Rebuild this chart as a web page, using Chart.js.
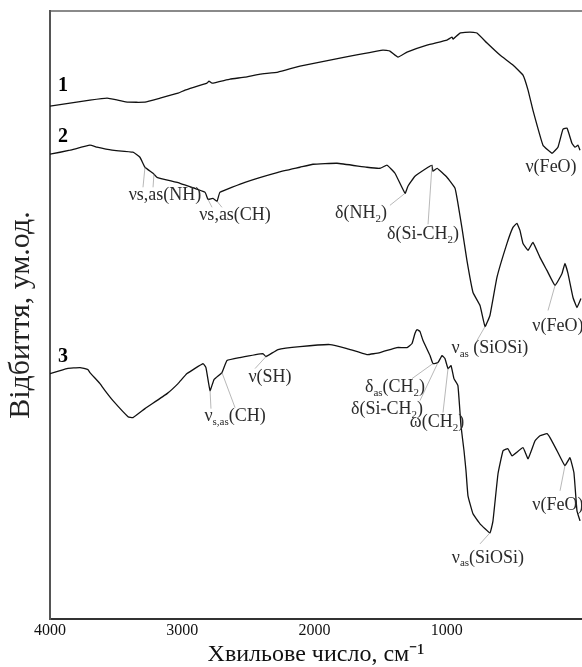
<!DOCTYPE html>
<html>
<head>
<meta charset="utf-8">
<script src="https://cdn.jsdelivr.net/npm/chart.js@4.4.0/dist/chart.umd.min.js"></script>
<style>
  html, body { margin: 0; padding: 0; background: #fff; }
</style>
</head>
<body>
<canvas id="chart" width="582" height="667"></canvas>
<script>
// wavenumbers (cm-1) and reflectance (arb. units)
const wn1 = [4000, 3849, 3698, 3569, 3486, 3410, 3282, 3168, 3032, 2979, 2813, 2798, 2775, 2639, 2526, 2412, 2276, 2110, 1808, 1483, 1430, 1369, 1301, 1150, 999, 961, 953, 900, 825, 772, 696, 598, 500, 424, 386, 349, 273, 205, 160, 122, 91, 54, 31, 8, -7];
const refl1 = [512, 515, 518, 520, 518, 516, 516, 520, 525, 528, 535, 537, 535, 539, 541, 544, 546, 552, 560, 568, 567, 561, 566, 573, 578, 581, 579, 585, 586, 585, 575, 563, 553, 543, 528, 508, 473, 465, 471, 489, 490, 475, 471, 473, 468];

const wn2 = [4000, 3849, 3698, 3645, 3531, 3373, 3320, 3282, 3221, 3191, 3017, 2828, 2806, 2768, 2737, 2715, 2526, 2276, 2110, 2012, 1830, 1604, 1505, 1452, 1392, 1316, 1294, 1241, 1142, 1112, 1105, 1074, 999, 938, 916, 885, 848, 802, 749, 711, 674, 621, 545, 500, 470, 447, 424, 386, 349, 296, 243, 182, 129, 107, 84, 46, 16, -14];
const refl2 = [464, 468, 473, 471, 468, 466, 461, 451, 445, 441, 435, 426, 419, 420, 417, 426, 436, 446, 451, 454, 455, 451, 450, 453, 445, 425, 432, 442, 451, 453, 447, 450, 441, 430, 415, 390, 358, 326, 313, 292, 303, 341, 375, 391, 395, 388, 375, 368, 376, 361, 348, 333, 345, 355, 345, 321, 311, 320];

const wn3 = [4000, 3871, 3773, 3713, 3698, 3622, 3584, 3524, 3410, 3373, 3282, 3115, 3032, 2964, 2843, 2821, 2790, 2760, 2700, 2662, 2564, 2390, 2367, 2276, 2110, 1883, 1755, 1604, 1505, 1377, 1301, 1263, 1241, 1225, 1203, 1180, 1127, 1105, 1067, 1036, 1014, 991, 968, 946, 916, 893, 870, 855, 840, 802, 749, 674, 651, 613, 575, 538, 507, 424, 386, 333, 296, 243, 220, 167, 107, 69, 39, 16, -7];
const refl3 = [245, 250, 251, 249, 246, 235, 228, 218, 202, 201, 210, 225, 235, 245, 255, 251, 228, 239, 246, 258, 261, 265, 262, 269, 272, 274, 270, 264, 266, 271, 271, 275, 285, 289, 287, 278, 263, 255, 256, 263, 260, 250, 253, 240, 233, 193, 168, 148, 123, 105, 95, 86, 98, 145, 168, 170, 163, 171, 160, 178, 183, 185, 181, 168, 153, 161, 146, 108, 98];

const xTicks = [4000, 3000, 2000, 1000];

const series = [[wn1, refl1], [wn2, refl2], [wn3, refl3]];

// curve numbers and band assignments (text centre + leader lines, in data units)
const curveNames = [
  { text: '1', w: 3902, v: 532 },
  { text: '2', w: 3902, v: 481 },
  { text: '3', w: 3902, v: 262 }
];
const bandLabels = [
  { text: 'νs,as(NH)', w: 3131, v: 423, s: 1, lines: [[3282, 3297, 431], [3214, 3221, 431]] },
  { text: 'νs,as(CH)', w: 2601, v: 403, s: 1, lines: [[2806, 2775, 411], [2737, 2700, 411]] },
  { text: 'δ(NH_{2})', w: 1649, v: 405, s: 1, lines: [[1316, 1430, 413]] },
  { text: 'δ(Si-CH_{2})', w: 1180, v: 384, s: 1, lines: [[1112, 1142, 394]] },
  { text: 'ν(FeO)', w: 212, v: 451, s: 0, lines: [] },
  { text: 'ν_{as} (SiOSi)', w: 674, v: 270, s: 1, lines: [[711, 772, 278]] },
  { text: 'ν(FeO)', w: 160, v: 292, s: 1, lines: [[182, 235, 308]] },
  { text: 'ν(SH)', w: 2337, v: 241, s: 2, lines: [[2367, 2450, 250]] },
  { text: 'ν_{s,as}(CH)', w: 2601, v: 202, s: 2, lines: [[2790, 2783, 210], [2700, 2601, 211]] },
  { text: 'δ_{as}(CH_{2})', w: 1392, v: 231, s: 2, lines: [[1105, 1263, 240]] },
  { text: 'δ(Si-CH_{2})', w: 1452, v: 209, s: 2, lines: [[1067, 1203, 218]] },
  { text: 'ω(CH_{2})', w: 1074, v: 196, s: 2, lines: [[991, 1029, 206]] },
  { text: 'ν_{as}(SiOSi)', w: 689, v: 61, s: 2, lines: [[674, 749, 75]] },
  { text: 'ν(FeO)', w: 160, v: 114, s: 2, lines: [[107, 144, 128]] }
];

const serif = '"Liberation Serif", "Times New Roman", serif';

function valueAt(ws, rs, w) {
  for (let i = 0; i < ws.length - 1; i++) {
    if (w <= ws[i] && w >= ws[i + 1]) {
      const t = (ws[i] - w) / (ws[i] - ws[i + 1]);
      return rs[i] + t * (rs[i + 1] - rs[i]);
    }
  }
  return rs[rs.length - 1];
}

function parseRich(str) {
  const parts = [];
  const re = /_\{([^}]*)\}/g;
  let last = 0, m;
  while ((m = re.exec(str))) {
    if (m.index > last) parts.push({ t: str.slice(last, m.index), sub: false });
    parts.push({ t: m[1], sub: true });
    last = re.lastIndex;
  }
  if (last < str.length) parts.push({ t: str.slice(last), sub: false });
  return parts;
}

function drawRich(ctx, str, cx, cy, size, bold) {
  const parts = parseRich(str);
  const subSize = Math.round(size * 0.6);
  const weight = bold ? 'bold ' : '';
  let total = 0;
  parts.forEach(p => {
    ctx.font = weight + (p.sub ? subSize : size) + 'px ' + serif;
    p.w = ctx.measureText(p.t).width;
    total += p.w;
  });
  let x = cx - total / 2;
  parts.forEach(p => {
    ctx.font = weight + (p.sub ? subSize : size) + 'px ' + serif;
    ctx.fillText(p.t, x, cy + (p.sub ? size * 0.3 : 0));
    x += p.w;
  });
}

const labelsPlugin = {
  id: 'bandLabels',
  afterDatasetsDraw(chart) {
    const ctx = chart.ctx;
    const xs = chart.scales.x, ys = chart.scales.y;
    ctx.save();
    ctx.textBaseline = 'middle';
    ctx.textAlign = 'left';

    // leader lines
    ctx.strokeStyle = '#9a9a9a';
    ctx.lineWidth = 0.7;
    bandLabels.forEach(b => {
      const [ws, rs] = series[b.s];
      b.lines.forEach(l => {
        ctx.beginPath();
        ctx.moveTo(xs.getPixelForValue(l[0]), ys.getPixelForValue(valueAt(ws, rs, l[0])));
        ctx.lineTo(xs.getPixelForValue(l[1]), ys.getPixelForValue(l[2]));
        ctx.stroke();
      });
    });

    ctx.fillStyle = '#2b2b2b';
    bandLabels.forEach(b => {
      drawRich(ctx, b.text, xs.getPixelForValue(b.w), ys.getPixelForValue(b.v), 18, false);
    });

    ctx.fillStyle = '#000';
    curveNames.forEach(c => {
      drawRich(ctx, c.text, xs.getPixelForValue(c.w), ys.getPixelForValue(c.v), 20, true);
    });
    ctx.restore();
  }
};

const myChart = new Chart('chart', {
  type: 'line',
  data: {
    datasets: series.map(([ws, rs]) => ({
      data: ws.map((w, i) => ({ x: w, y: rs[i] })),
      borderColor: '#111',
      borderWidth: 1.3,
      pointRadius: 0,
      tension: 0.1,
      fill: false
    }))
  },
  options: {
    responsive: false,
    animation: false,
    devicePixelRatio: 1,
    layout: { padding: { top: 11, right: 0, bottom: 0, left: 0 } },
    plugins: { legend: { display: false }, tooltip: { enabled: false } },
    scales: {
      x: {
        type: 'linear',
        reverse: true,
        min: -22,
        max: 4000,
        grid: { display: false, drawTicks: false },
        border: { display: true, color: '#333', width: 2 },
        afterBuildTicks: axis => { axis.ticks = xTicks.map(v => ({ value: v })); },
        ticks: {
          padding: 4,
          color: '#111',
          font: { family: serif, size: 16, lineHeight: 1 },
          callback: v => String(v)
        },
        title: {
          display: true,
          text: 'Хвильове число, см⁻¹',
          color: '#111',
          font: { family: serif, size: 24, lineHeight: 1 },
          padding: { top: 0, bottom: 0 }
        }
      },
      x2: {
        type: 'linear',
        position: 'top',
        min: 0,
        max: 1,
        grid: { display: false, drawTicks: false },
        ticks: { display: false },
        border: { display: true, color: '#8a8a8a', width: 2 }
      },
      y: {
        min: 0,
        max: 607,
        grid: { display: false, drawTicks: false },
        ticks: { display: false },
        border: { display: true, color: '#555', width: 2 },
        title: {
          display: true,
          text: 'Відбиття, ум.од.',
          color: '#222',
          font: { family: serif, size: 30, lineHeight: 1.1 },
          padding: { top: 5, bottom: 12 }
        }
      }
    }
  },
  plugins: [labelsPlugin]
});
</script>
</body>
</html>
